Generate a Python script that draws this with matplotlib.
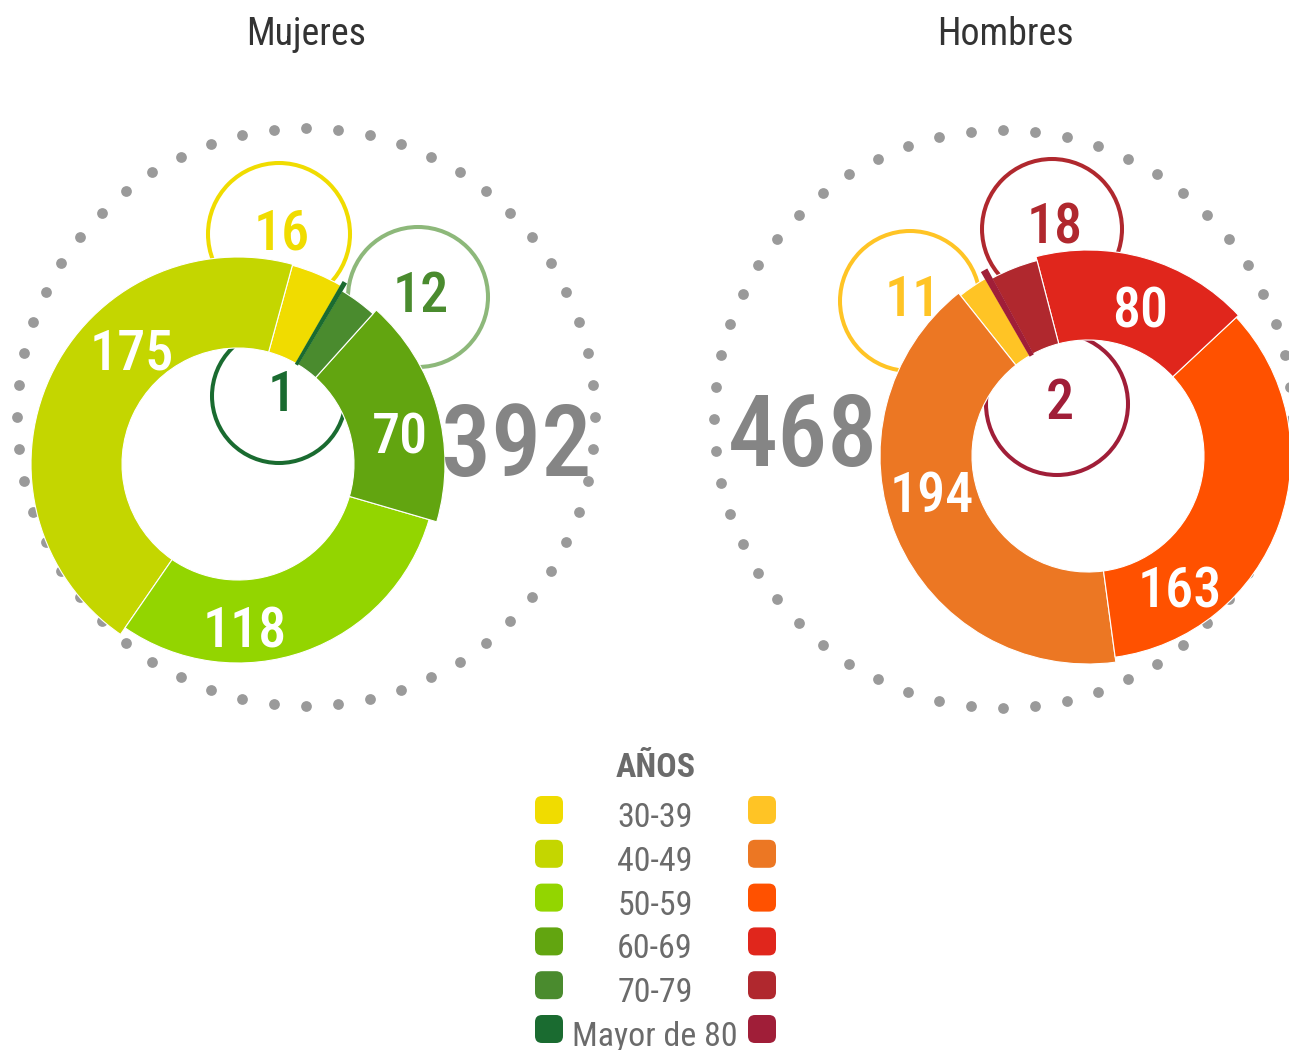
import numpy as np
import matplotlib.pyplot as plt
from matplotlib.patches import Wedge, Circle, FancyBboxPatch

# data
ages = ['30-39', '40-49', '50-59', '60-69', '70-79', 'Mayor de 80']
mujeres = [16, 175, 118, 70, 12, 1]
hombres = [11, 194, 163, 80, 18, 2]

col_muj = ['#F0DC00', '#C4D600', '#93D500', '#62A510', '#4A8B2E', '#1A6B30']
col_hom = ['#FFC425', '#EC7723', '#FF5100', '#E0261C', '#B0282E', '#A01E38']

plt.rcParams['font.family'] = ['Roboto Condensed', 'DejaVu Sans Condensed',
                               'Liberation Sans Narrow', 'DejaVu Sans']

W, H = 1289, 1050
fig = plt.figure(figsize=(W / 100, H / 100), dpi=100)
ax = fig.add_axes([0, 0, 1, 1])
ax.set_xlim(0, W)
ax.set_ylim(H, 0)
ax.axis('off')


def pt(px):
    return px * 72 / 100


def donut(cx, cy, values, colors, start, r_in, r_out):
    total = sum(values)
    a = start
    for v, c, ro in zip(values, colors, r_out):
        span = v / total * 360
        thin = span < 3
        # y axis is inverted, so screen angles are flipped
        ax.add_patch(Wedge((cx, cy), ro, -(a + span), -a, width=ro - r_in,
                           facecolor=c, edgecolor=c if thin else 'white',
                           lw=1.2 if thin else 0.8, zorder=4 if thin else 3))
        a += span


def dots(cx, cy, r, n=56):
    t = np.linspace(0, 2 * np.pi, n, endpoint=False)
    ax.scatter(cx + r * np.cos(t), cy + r * np.sin(t), s=60, color='#9a9a9a',
               lw=0, zorder=1)


def bubble(x, y, r, ec, val, tc):
    ax.add_patch(Circle((x, y), r, fill=False, ec=ec, lw=2.9, zorder=2))
    ax.text(x + 3, y + 15, str(val), color=tc, fontsize=pt(56), ha='center',
            va='baseline', fontweight='medium', zorder=5)


def inlabel(x, y, val):
    ax.text(x, y, str(val), color='white', fontsize=pt(56), ha='center',
            va='baseline', fontweight='medium', zorder=6)


# Mujeres
dots(306, 417, 289)
bubble(279, 234, 71, col_muj[0], mujeres[0], col_muj[0])
bubble(418, 297, 70, '#8DB87A', mujeres[4], col_muj[4])
bubble(279, 396, 67, col_muj[5], mujeres[5], col_muj[5])
donut(238, 464, mujeres, col_muj, 60, 116, [206, 207, 199, 207, 202, 210])
inlabel(132, 370, mujeres[1])
inlabel(245, 647, mujeres[2])
inlabel(400, 453, mujeres[3])
ax.text(516, 476, str(sum(mujeres)), color='#858585', fontsize=pt(100),
        ha='center', va='baseline', fontweight='medium', zorder=6)
ax.text(306, 45, 'Mujeres', color='#333333', fontsize=pt(38), ha='center',
        va='baseline')

# Hombres
dots(1003, 419, 289)
bubble(910, 301, 70, col_hom[0], hombres[0], col_hom[0])
bubble(1052, 229, 70, col_hom[4], hombres[4], col_hom[4])
bubble(1057, 404, 71, col_hom[5], hombres[5], col_hom[5])
donut(1088, 456, hombres, col_hom, 120, 116, [205, 208, 203, 206, 202, 212])
inlabel(932, 512, hombres[1])
inlabel(1180, 608, hombres[2])
inlabel(1140, 328, hombres[3])
ax.text(803, 466, str(sum(hombres)), color='#858585', fontsize=pt(100),
        ha='center', va='baseline', fontweight='medium', zorder=6)
ax.text(1005, 45, 'Hombres', color='#333333', fontsize=pt(38), ha='center',
        va='baseline')

# legend
ax.text(656, 777, 'AÑOS', color='#6b6b6b', fontsize=pt(34), fontweight='bold',
        ha='center', va='baseline')
for i, lab in enumerate(ages):
    y = 810 + i * 43.8
    ax.text(655, y + 17, lab, color='#6b6b6b', fontsize=pt(34), ha='center',
            va='baseline')
    for x, c in ((549, col_muj[i]), (762, col_hom[i])):
        ax.add_patch(FancyBboxPatch((x - 14, y - 14), 28, 28,
                                    boxstyle='round,pad=0,rounding_size=7',
                                    fc=c, ec='none'))

fig.savefig('out.png', dpi=100)
